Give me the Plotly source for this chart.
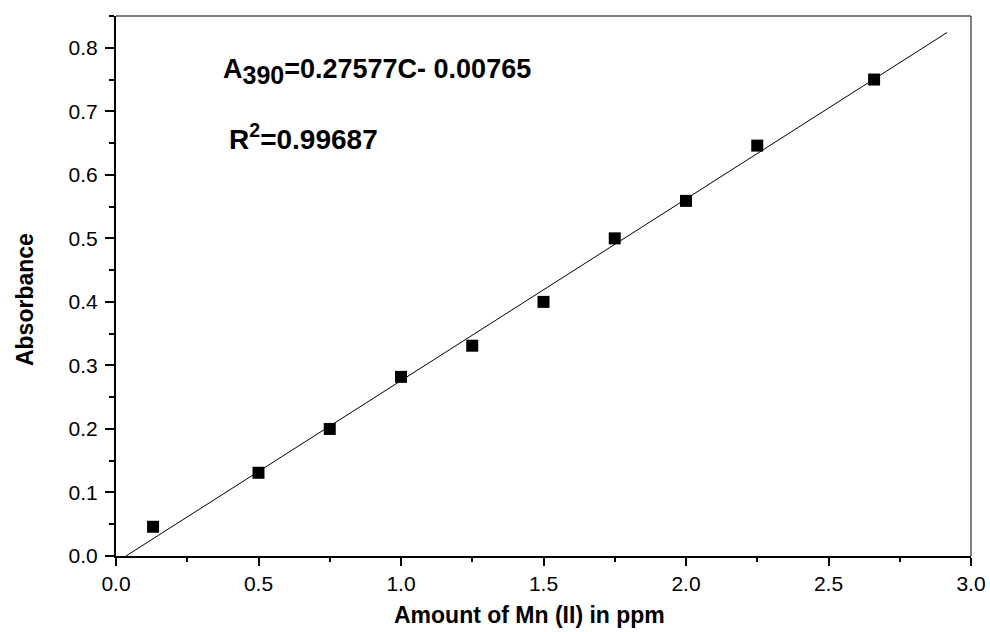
import plotly.graph_objects as go

# Data
conc_ppm = [0.13, 0.50, 0.75, 1.00, 1.25, 1.50, 1.75, 2.00, 2.25, 2.66]
absorbance = [0.046, 0.131, 0.200, 0.282, 0.331, 0.400, 0.500, 0.559, 0.646, 0.750]

# fitted line endpoints as drawn
fit_x = [0.035, 2.916]
fit_y = [0.0, 0.824]

equation_text = "A<sub><span style='font-size:25px'>390</span></sub>=0.27577C- 0.00765"
r2_text = "R<sup>2</sup>=0.99687"
x_title = "Amount of Mn (II) in ppm"
y_title = "Absorbance"

FONT = "Arial, Liberation Sans, sans-serif"

fig = go.Figure()
fig.add_trace(go.Scatter(x=fit_x, y=fit_y, mode="lines",
                         line=dict(color="black", width=1), showlegend=False,
                         hoverinfo="skip"))
fig.add_trace(go.Scatter(x=conc_ppm, y=absorbance, mode="markers",
                         marker=dict(symbol="square", size=12, color="black",
                                     line=dict(width=0)),
                         showlegend=False))

axis_common = dict(
    showgrid=False, zeroline=False, showline=True, linecolor="black",
    linewidth=2, ticks="outside", tickcolor="black", tickwidth=2,
    tickfont=dict(family=FONT, size=21, color="black"), tickformat=".1f",
    automargin=False,
)

fig.update_xaxes(range=[0, 3.0], dtick=0.5, tick0=0, ticklen=8,
                 minor=dict(ticks="outside", dtick=0.25, ticklen=4, tickwidth=2,
                            tickcolor="black"),
                 **axis_common)
fig.update_yaxes(range=[0, 0.85], dtick=0.1, tick0=0, ticklen=9,
                 ticklabelstandoff=3,
                 minor=dict(ticks="outside", dtick=0.05, ticklen=5, tickwidth=2,
                            tickcolor="black"),
                 **axis_common)

# thin top/right frame
fig.add_shape(type="line", xref="paper", yref="paper", x0=0, x1=1, y0=1, y1=1,
              line=dict(color="black", width=1))
fig.add_shape(type="line", xref="paper", yref="paper", x0=1, x1=1, y0=0, y1=1,
              line=dict(color="black", width=1))

# axis titles
fig.add_annotation(x=0.484, y=-0.109, xref="paper", yref="paper",
                   xanchor="center", yanchor="middle", showarrow=False,
                   text=f"<b>{x_title}</b>",
                   font=dict(family=FONT, size=23, color="black"))
fig.add_annotation(x=-0.1064, y=0.474, xref="paper", yref="paper",
                   xanchor="center", yanchor="middle", showarrow=False,
                   textangle=-90, text=f"<b>{y_title}</b>",
                   font=dict(family=FONT, size=23, color="black"))

# equation and R^2
fig.add_annotation(x=0.368, y=0.762, xref="x", yref="y", xanchor="left",
                   yanchor="middle", showarrow=False,
                   text=f"<b>{equation_text}</b>",
                   font=dict(family=FONT, size=27, color="black"))
fig.add_annotation(x=0.39, y=0.66, xref="x", yref="y", xanchor="left",
                   yanchor="middle", showarrow=False,
                   text=f"<b>{r2_text}</b>",
                   font=dict(family=FONT, size=28, color="black"))

fig.update_layout(
    template="none",
    width=990, height=632,
    margin=dict(l=116, r=19, t=16, b=76, autoexpand=False),
    paper_bgcolor="white", plot_bgcolor="white",
    font=dict(family=FONT, color="black"),
    showlegend=False,
)

fig.write_html("out.html", config={"displayModeBar": False},
               post_script="document.body.style.margin='0px';")
